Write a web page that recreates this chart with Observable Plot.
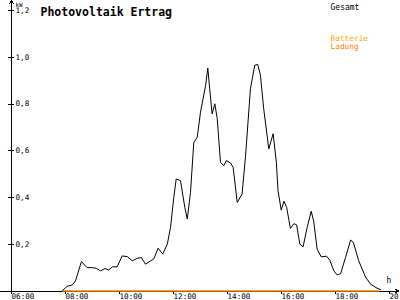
<!DOCTYPE html>
<html><head><meta charset="utf-8">
<script src="https://cdn.jsdelivr.net/npm/d3@7"></script>
<script src="https://cdn.jsdelivr.net/npm/@observablehq/plot@0.6"></script>
<style>
html,body{margin:0;padding:0;background:#fff;}
svg{display:block;}
</style>
</head><body>
<div id="chart"></div>
<script>
// Gesamt (total PV output), decimal hours -> kW
const hours = [7.90,8.06,8.25,8.37,8.59,8.80,8.99,9.14,9.30,9.46,9.60,9.75,9.91,10.10,10.29,10.47,10.66,10.81,10.96,11.15,11.27,11.43,11.60,11.77,11.89,12.01,12.10,12.26,12.42,12.51,12.63,12.75,12.88,13.00,13.19,13.27,13.34,13.43,13.53,13.62,13.74,13.86,13.96,14.11,14.21,14.36,14.54,14.67,14.85,15.01,15.12,15.22,15.34,15.53,15.69,15.81,15.87,15.99,16.09,16.19,16.33,16.46,16.56,16.68,16.80,16.95,17.10,17.19,17.32,17.47,17.67,17.79,17.94,18.06,18.19,18.37,18.56,18.66,18.86,19.11,19.30,19.54,19.67];
const kw = [0.003,0.02,0.026,0.043,0.126,0.10,0.10,0.097,0.086,0.096,0.09,0.104,0.103,0.15,0.147,0.129,0.14,0.143,0.115,0.129,0.137,0.183,0.158,0.20,0.272,0.40,0.479,0.472,0.357,0.308,0.422,0.634,0.658,0.765,0.88,0.954,0.866,0.758,0.801,0.737,0.551,0.536,0.558,0.548,0.529,0.379,0.415,0.579,0.866,0.966,0.969,0.923,0.78,0.608,0.673,0.551,0.43,0.346,0.384,0.358,0.268,0.288,0.283,0.20,0.189,0.272,0.341,0.30,0.179,0.146,0.149,0.132,0.086,0.069,0.074,0.143,0.218,0.208,0.129,0.06,0.029,0.012,0.006];
// Batterie Ladung (battery charging) series
const battHours = [7.9, 19.6];
const battKw = [0, 0];
const xTicks = [6,8,10,12,14,16,18,20];
const yTicks = [0.2,0.4,0.6,0.8,1.0,1.2];
const title = "Photovoltaik Ertrag";
const legend = ["Gesamt","Batterie","Ladung"];
const yUnit = "kW";
const xUnit = "h";

const gesamt = hours.map((h,i)=>({h, v: kw[i]}));
const batt = battHours.map((h,i)=>({h, v: battKw[i]}));
const font = "DejaVu Sans Mono, monospace";

const chart = Plot.plot({
  width: 400, height: 300,
  marginLeft: 11, marginRight: 11, marginTop: 10, marginBottom: 9.5,
  style: {fontFamily: font, fontSize: "8px", background: "#fff", color: "black"},
  x: {domain: [6,20], axis: null, label: null},
  y: {domain: [0,1.2], axis: null, label: null},
  marks: [
    // x axis with arrow
    Plot.arrow([0], {x1: 6 - 0.41, x2: 20 + 0.34, y1: 0, y2: 0, stroke: "black", strokeWidth: 1, headLength: 6, headAngle: 50, shapeRendering: "crispEdges"}),
    // y axis with arrow
    Plot.arrow([0], {x1: 6, x2: 6, y1: -0.012, y2: 1.245, stroke: "black", strokeWidth: 1, headLength: 6, headAngle: 50, shapeRendering: "crispEdges"}),
    Plot.axisX(xTicks, {anchor: "bottom", label: null, tickSize: 3, tickPadding: -0.5, textAnchor: "start", fontSize: 7.6, tickFormat: d => String(d).padStart(2,"0") + ":00", shapeRendering: "crispEdges"}),
    Plot.axisY(yTicks, {anchor: "left", label: null, tickSize: 6, dx: 3, tickPadding: -7, textAnchor: "start", fontSize: 7.6, tickFormat: d => d.toFixed(1).replace(".", ","), shapeRendering: "crispEdges"}),
    Plot.line(batt, {x: "h", y: "v", stroke: "#ff8000", strokeWidth: 1.5}),
    Plot.line(gesamt, {x: "h", y: "v", stroke: "black", strokeWidth: 1}),
    Plot.text([title], {frameAnchor: "top-left", dx: 29, dy: -3, textAnchor: "start", fontSize: 11.5, fontWeight: "bold", fill: "black"}),
    Plot.text([yUnit], {frameAnchor: "top-left", dx: 4, dy: -7.5, textAnchor: "start", fontSize: 6, fill: "black"}),
    Plot.text([legend[0]], {frameAnchor: "top-right", dx: -59, dy: -6, textAnchor: "start", fontSize: 8, fill: "black"}),
    Plot.text([legend[1]], {frameAnchor: "top-right", dx: -59, dy: 24.5, textAnchor: "start", fontSize: 7.8, fill: "#ffaa00"}),
    Plot.text([legend[2]], {frameAnchor: "top-right", dx: -59, dy: 32.5, textAnchor: "start", fontSize: 7.8, fill: "#ff8000"}),
    Plot.text([xUnit], {frameAnchor: "bottom-right", dx: -3, dy: -8.5, textAnchor: "start", fontSize: 8, fill: "black"})
  ]
});
document.getElementById("chart").appendChild(chart);
</script>
</body></html>
